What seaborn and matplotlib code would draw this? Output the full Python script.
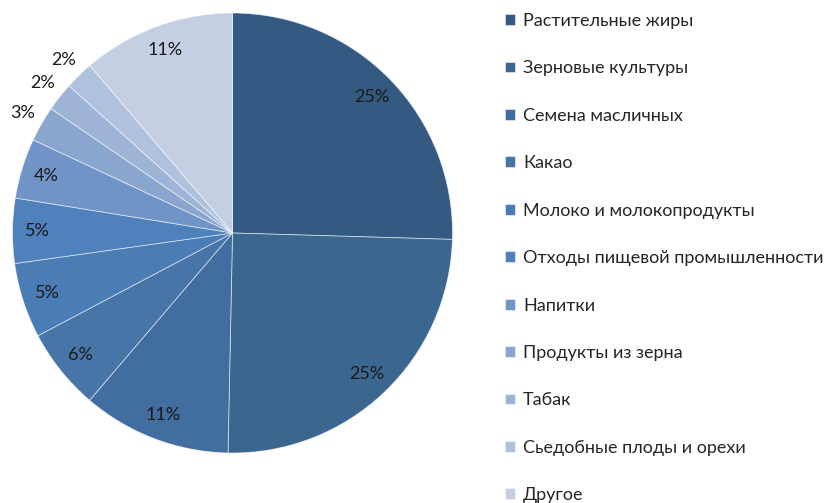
import numpy as np
import seaborn as sns
import matplotlib.pyplot as plt

# data (percent of total)
categories = ['Растительные жиры', 'Зерновые культуры', 'Семена масличных', 'Какао',
              'Молоко и молокопродукты', 'Отходы пищевой промышленности', 'Напитки',
              'Продукты из зерна', 'Табак', 'Сьедобные плоды и орехи', 'Другое']
shares = [25.4, 24.8, 10.9, 6.0, 5.5, 4.75, 4.4, 2.6, 2.1, 2.1, 11.2]
pct_labels = ['25%', '25%', '11%', '6%', '5%', '5%', '4%', '3%', '2%', '2%', '11%']
colors = ['#345A82', '#3A6690', '#416E9E', '#4775A8', '#4A7CB6', '#4F81BD',
          '#7094C7', '#8AA5CE', '#9EB4D6', '#B0C1DD', '#C4CFE3']
outside = [7, 8, 9]  # small slices labelled outside the pie

sns.set_theme(style="white")
plt.rcParams['font.family'] = ['Lato', 'DejaVu Sans']

fig = plt.figure(figsize=(8.31, 5.03), dpi=100)
ax = fig.add_axes([12.5 / 831, 50 / 503, 440 / 831, 440 / 503])

wedges, _ = ax.pie(shares, colors=colors, startangle=90, counterclock=False,
                   radius=1, wedgeprops=dict(edgecolor=(1, 1, 1, 0.6), linewidth=0.6))
ax.set_xlim(-1, 1)
ax.set_ylim(-1, 1)
ax.set_aspect('equal')

for i, w in enumerate(wedges):
    mid = np.deg2rad((w.theta1 + w.theta2) / 2)
    r = 1.1 if i in outside else 0.885
    ax.text(r * np.cos(mid), r * np.sin(mid), pct_labels[i], ha='center', va='center',
            fontsize=13, color='#1a1a1a')

fig.legend(wedges, categories, loc='upper left', bbox_to_anchor=(505 / 831, 1 - 13 / 503),
           frameon=False, fontsize=13, handlelength=0.55, handleheight=0.55,
           handletextpad=0.45, labelspacing=1.74, borderaxespad=0, borderpad=0)

fig.savefig('out.png', dpi=100)
